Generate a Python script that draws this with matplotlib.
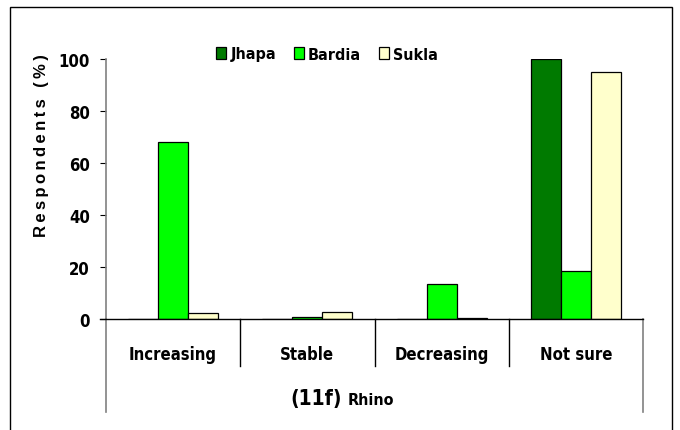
import matplotlib
matplotlib.use('Agg')
import matplotlib.pyplot as plt
from matplotlib.patches import Rectangle
import numpy as np

# Data
categories = ['Increasing', 'Stable', 'Decreasing', 'Not sure']
jhapa = [0, 0, 0, 100]
bardia = [68, 0.6, 13.5, 18.3]
sukla = [2.2, 2.8, 0.5, 95]
series_names = ['Jhapa', 'Bardia', 'Sukla']
colors = ['#007a00', '#00ff00', '#ffffcc']

NARROW = ['DejaVu Sans']
WIDE = ['Liberation Sans', 'DejaVu Sans']
nfont = dict(family=NARROW, fontweight='bold', fontstretch='condensed')

W, H = 680, 431
fig = plt.figure(figsize=(W / 100, H / 100), dpi=100)

# outer frame
fig.add_artist(Rectangle((10 / W, -0.01), 662 / W, 1 - 8 / H + 0.01,
                         transform=fig.transFigure, fill=False,
                         edgecolor='black', linewidth=1.0))

ax = fig.add_axes([106 / W, (H - 320) / H, (643 - 106) / W, 260 / H])

x = np.arange(len(categories))
bw = 0.2235
for i, (vals, name, c) in enumerate(zip([jhapa, bardia, sukla], series_names, colors)):
    ax.bar(x + (i - 1) * bw, vals, bw, color=c, edgecolor='black',
           linewidth=0.9, label=name, zorder=3)

ax.set_xlim(-0.5, len(categories) - 0.5)
ax.set_ylim(0, 100)
ax.set_yticks([0, 20, 40, 60, 80, 100])
ax.set_xticks([])
for s in ['top', 'right', 'bottom']:
    ax.spines[s].set_visible(False)
ax.spines['left'].set_color('#808080')
ax.spines['left'].set_linewidth(1.2)
ax.tick_params(axis='y', length=4.5, width=0.8, color='black', pad=7)
for lab in ax.get_yticklabels():
    lab.set_family(NARROW)
    lab.set_fontweight('bold')
    lab.set_fontstretch('condensed')
    lab.set_fontsize(12)

# x axis line and category box
ax.plot([-6 / 537, 1], [0, 0], transform=ax.transAxes, color='black',
        linewidth=1.0, clip_on=False, zorder=4)
ax.plot([0, 0], [0, -93 / 260], transform=ax.transAxes, color='#808080',
        linewidth=1.2, clip_on=False)
ax.plot([1, 1], [0, -93 / 260], transform=ax.transAxes, color='#808080',
        linewidth=1.2, clip_on=False)
xt = ax.get_xaxis_transform()
for b in np.arange(0.5, len(categories) - 1, 1.0):
    ax.plot([b, b], [0, -47 / 260], transform=xt, color='black',
            linewidth=1.0, clip_on=False)
for xi, cat in zip(x, categories):
    ax.text(xi, -40 / 260, cat, transform=xt, ha='center', va='baseline',
            fontsize=12, **nfont)

# y label
ylab = '\u2009'.join('Respondents') + '\u2009 \u2009' + '\u2009'.join('(%)')
fig.text(42 / W, 1 - 146 / H, ylab, rotation=90,
         ha='center', va='center', family=WIDE, fontweight='bold', fontsize=12)

# caption
fig.text(290 / W, (H - 405) / H, '(11f)', ha='left', va='baseline',
         fontsize=15, **nfont)
fig.text(348 / W, (H - 405) / H, 'Rhino', ha='left', va='baseline',
         fontsize=11.5, **nfont)

fig.legend(loc='center', bbox_to_anchor=(327 / W, 1 - 55 / H), ncol=3,
           frameon=False, handlelength=0.62, handleheight=0.85,
           handletextpad=0.28, columnspacing=1.1,
           prop={'family': NARROW, 'weight': 'bold', 'stretch': 'condensed', 'size': 11.5})

fig.savefig('out.png', dpi=100)
